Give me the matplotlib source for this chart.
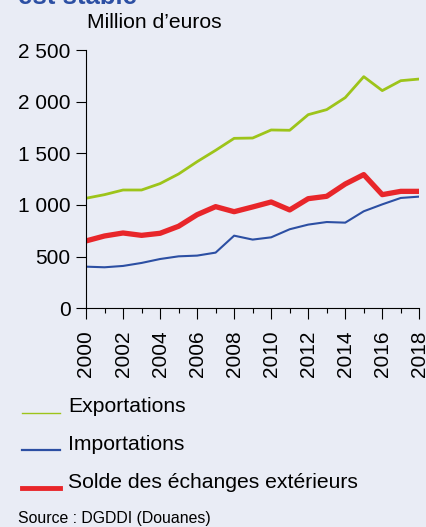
import numpy as np
import matplotlib.pyplot as plt
from matplotlib.lines import Line2D

plt.rcParams['font.family'] = ['Liberation Sans', 'DejaVu Sans']

years = list(range(2000, 2019))
exportations = [1065, 1100, 1145, 1145, 1207, 1300, 1419, 1529, 1645, 1648,
                1726, 1723, 1874, 1923, 2039, 2242, 2107, 2203, 2219]
importations = [403, 397, 410, 439, 477, 503, 510, 539, 703, 665,
                687, 765, 810, 835, 829, 939, 1006, 1068, 1081]
solde = [652, 700, 729, 706, 726, 794, 906, 984, 935, 981,
         1029, 952, 1061, 1084, 1203, 1294, 1100, 1132, 1132]

bg = '#e9ecf5'
green = '#9dc41a'
blue = '#2c4fa3'
red = '#e8262a'

W, H = 427, 527
fig = plt.figure(figsize=(W / 100, H / 100), dpi=100, facecolor=bg)
ax = fig.add_axes([86 / W, 1 - 308.3 / H, (419.3 - 86) / W, (308.3 - 50) / H])
ax.set_facecolor(bg)

ax.plot(years, exportations, color=green, lw=2.0)
ax.plot(years, importations, color=blue, lw=1.5)
ax.plot(years, solde, color=red, lw=3.8)

ax.set_xlim(2000, 2018)
ax.set_ylim(0, 2500)
ax.set_yticks([0, 500, 1000, 1500, 2000, 2500])
ax.set_yticklabels(['0', '500', '1 000', '1 500', '2 000', '2 500'], fontsize=15)
ax.set_xticks(range(2000, 2019, 2))
ax.set_xticks(range(2001, 2018, 2), minor=True)
ax.set_xticklabels([str(y) for y in range(2000, 2019, 2)], rotation=90, fontsize=15)
for s in ['top', 'right']:
    ax.spines[s].set_visible(False)
for s in ['left', 'bottom']:
    ax.spines[s].set_linewidth(0.8)
ax.tick_params(axis='y', length=7.2, width=0.8, pad=4)
ax.tick_params(axis='x', which='major', length=8, width=0.8, pad=8)
ax.tick_params(axis='x', which='minor', length=3.8, width=0.8)

# title is cut by the top edge in the original too
fig.text(18 / W, 1 - 4 / H, 'est stable', color=blue, fontsize=18.5,
         fontweight='bold', va='baseline', ha='left')
fig.text(87 / W, 1 - 22 / H, 'Million d\u2019euros', fontsize=15.2, va='center', ha='left')

# legend drawn by hand in figure coordinates
items = [('Exportations', green, 1.0, 413), ('Importations', blue, 1.6, 450),
         ('Solde des \u00e9changes ext\u00e9rieurs', red, 3.5, 488)]
for label, c, lw, yp in items:
    fig.add_artist(Line2D([22 / W, 60 / W], [1 - yp / H, 1 - yp / H], color=c, lw=lw))
    fig.text(68 / W, 1 - (yp - 6) / H, label, fontsize=15.2, va='center', ha='left')

fig.text(18 / W, 1 - 519 / H, 'Source : DGDDI (Douanes)', fontsize=11.4,
         va='center', ha='left')

fig.savefig('out.png', dpi=100, facecolor=bg)
